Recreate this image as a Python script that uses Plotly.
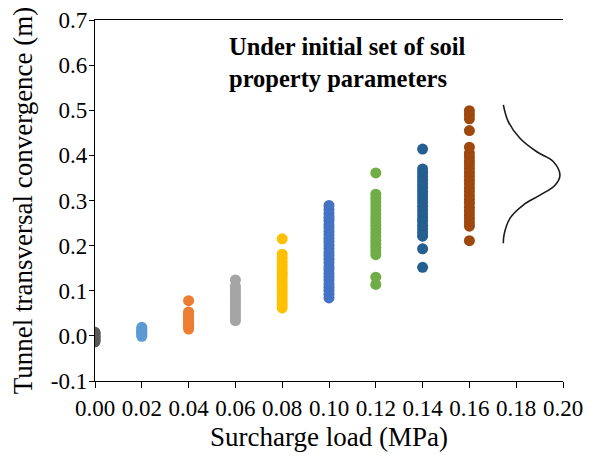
import plotly.graph_objects as go

# Surcharge load levels (MPa)
loads = [0.00, 0.02, 0.04, 0.06, 0.08, 0.10, 0.12, 0.14, 0.16]

# Tunnel transversal convergence (m) for each load level
conv_000 = [-0.013, -0.010, -0.007, -0.004, -0.001, 0.002, 0.005, 0.008]
conv_002 = [-0.001, 0.003, 0.006, 0.009, 0.012, 0.015, 0.019]
conv_004 = [0.015, 0.019, 0.023, 0.027, 0.031, 0.035, 0.040, 0.045, 0.049, 0.053, 0.078]
conv_006 = [0.034, 0.040, 0.047, 0.053, 0.060, 0.066, 0.072, 0.079, 0.085, 0.091, 0.098, 0.104, 0.110, 0.124]
conv_008 = [0.062, 0.070, 0.078, 0.086, 0.094, 0.102, 0.110, 0.118, 0.126, 0.134, 0.140,
            0.148, 0.156, 0.164, 0.172, 0.181, 0.215]
conv_010 = [0.084, 0.092, 0.101, 0.108, 0.115, 0.124, 0.131, 0.139, 0.147, 0.153, 0.162, 0.170,
            0.178, 0.185, 0.193, 0.201, 0.209, 0.216, 0.224, 0.232, 0.240, 0.247, 0.256, 0.263,
            0.271, 0.280, 0.289]
conv_012 = [0.114, 0.130, 0.180, 0.188, 0.196, 0.204, 0.212, 0.220, 0.229, 0.237, 0.245, 0.253,
            0.262, 0.270, 0.279, 0.288, 0.297, 0.305, 0.314, 0.361]
conv_014 = [0.152, 0.193, 0.221, 0.229, 0.237, 0.245, 0.254, 0.262, 0.270, 0.279, 0.287, 0.296,
            0.304, 0.312, 0.320, 0.329, 0.337, 0.345, 0.353, 0.362, 0.370, 0.414]
conv_016 = [0.211, 0.243, 0.251, 0.260, 0.268, 0.277, 0.285, 0.294, 0.302, 0.311, 0.320, 0.328,
            0.337, 0.345, 0.354, 0.362, 0.371, 0.380, 0.388, 0.397, 0.405, 0.418, 0.455, 0.481,
            0.490, 0.499]

series = [conv_000, conv_002, conv_004, conv_006, conv_008, conv_010, conv_012, conv_014, conv_016]
colors = ["#595959", "#5B9BD5", "#ED7D31", "#A5A5A5", "#FFC000",
          "#4472C4", "#70AD47", "#255E91", "#9E480E"]

# Illustrative distribution curve
curve_x = [0.1745, 0.1766, 0.1816, 0.1888, 0.1959, 0.1987, 0.1966, 0.1902, 0.1830, 0.1774, 0.1748, 0.1745]
curve_y = [0.512, 0.475, 0.438, 0.408, 0.386, 0.356, 0.334, 0.312, 0.290, 0.261, 0.224, 0.205]

# Axis ticks
x_ticks = [0.00, 0.02, 0.04, 0.06, 0.08, 0.10, 0.12, 0.14, 0.16, 0.18, 0.20]
x_tick_labels = ["0.00", "0.02", "0.04", "0.06", "0.08", "0.10", "0.12", "0.14", "0.16", "0.18", "0.20"]
y_ticks = [-0.1, 0.0, 0.1, 0.2, 0.3, 0.4, 0.5, 0.6, 0.7]
y_tick_labels = ["-0.1", "0.0", "0.1", "0.2", "0.3", "0.4", "0.5", "0.6", "0.7"]

fig = go.Figure()
for load, vals, col in zip(loads, series, colors):
    fig.add_trace(go.Scatter(
        x=[load] * len(vals), y=vals, mode="markers",
        marker=dict(color=col, size=11, line=dict(width=0)),
        showlegend=False,
    ))

fig.add_trace(go.Scatter(
    x=curve_x, y=curve_y, mode="lines",
    line=dict(color="#1a1a1a", width=1.6, shape="spline"),
    showlegend=False,
))

font_family = "Liberation Serif"

fig.add_annotation(
    x=0.0562, y=0.675, xref="x", yref="y",
    text="<b>Under initial set of soil<br>property parameters</b>",
    showarrow=False, xanchor="left", yanchor="top", align="left",
    font=dict(family=font_family, size=24.5, color="black"),
)

fig.update_layout(
    width=594, height=454,
    margin=dict(l=87, r=39, t=12, b=81),
    paper_bgcolor="white", plot_bgcolor="white",
    font=dict(family=font_family, color="black"),
)
fig.update_xaxes(
    range=[0, 0.2], tickvals=x_ticks, ticktext=x_tick_labels,
    showgrid=False, zeroline=False, automargin=False,
    showline=True, linecolor="black", linewidth=1.4, mirror=True,
    ticks="outside", ticklen=6, tickcolor="black", tickwidth=1.4,
    tickfont=dict(family=font_family, size=23, color="black"),
    title=dict(text="Surcharge load (MPa)", font=dict(family=font_family, size=27, color="black"), standoff=7),
)
fig.update_yaxes(
    range=[-0.1, 0.7], tickvals=y_ticks, ticktext=y_tick_labels,
    showgrid=False, zeroline=False, automargin=False,
    showline=True, linecolor="black", linewidth=1.4, mirror=False,
    ticks="outside", ticklen=5, tickcolor="black", tickwidth=1.4,
    ticklabelstandoff=-3,
    tickfont=dict(family=font_family, size=23, color="black"),
    title=dict(text="Tunnel transversal convergence (m)", font=dict(family=font_family, size=27, color="black"), standoff=10),
)

fig.write_html("out.html")
